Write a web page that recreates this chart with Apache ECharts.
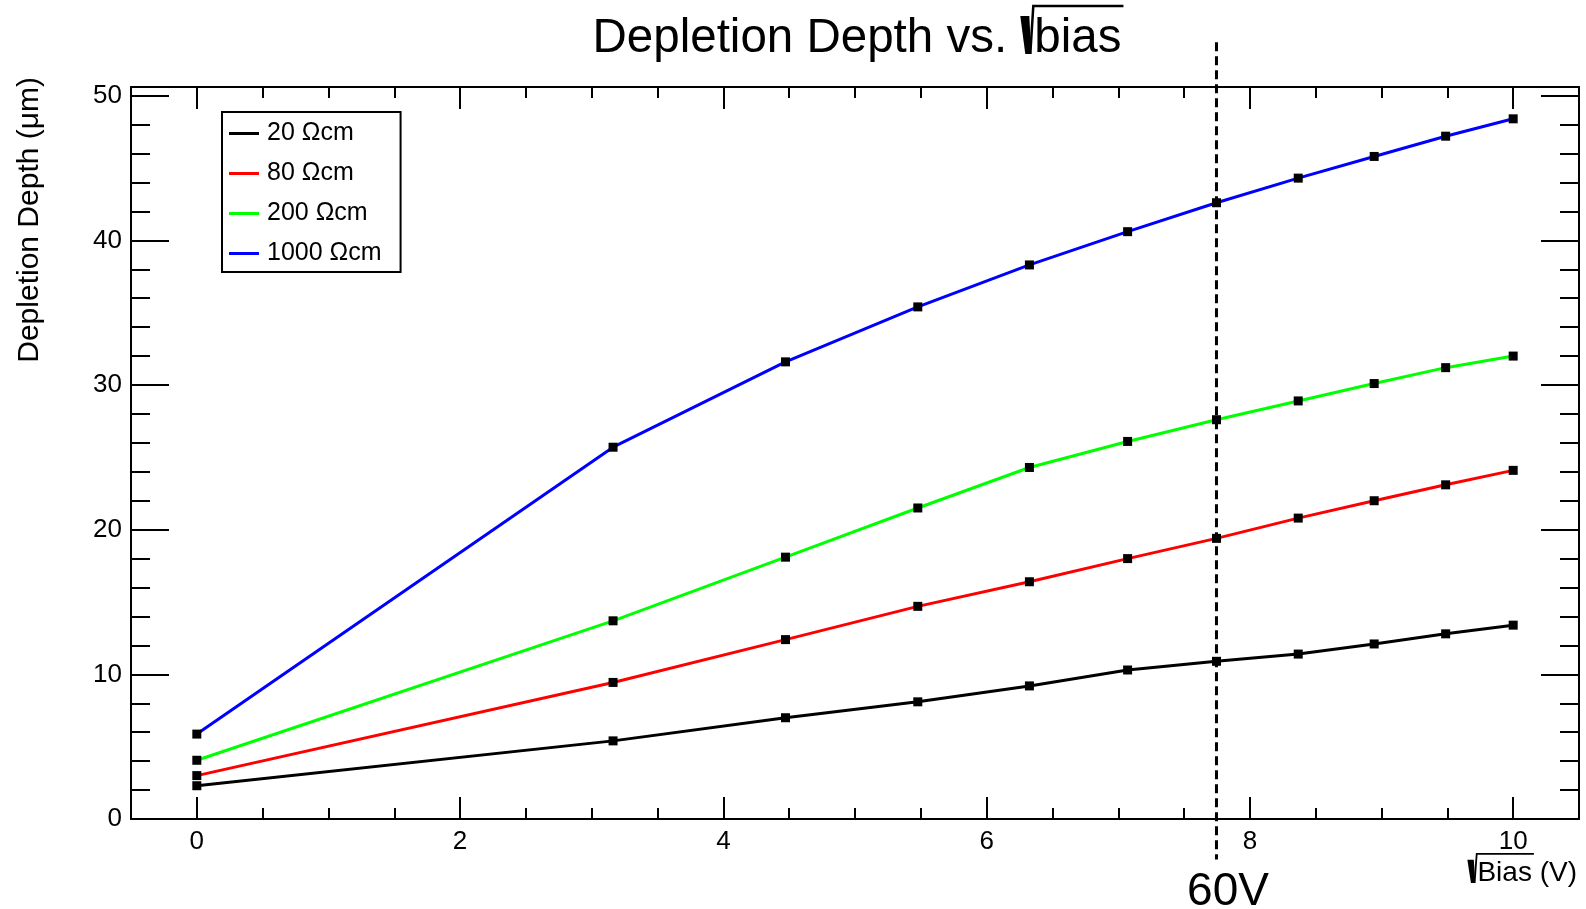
<!DOCTYPE html>
<html><head><meta charset="utf-8">
<script src="https://cdn.jsdelivr.net/npm/echarts@6/dist/echarts.min.js"></script>
<style>html,body{margin:0;padding:0;background:#fff}#c{width:1586px;height:909px}</style>
</head><body><div id="c"></div>
<script>
// ---- data ----
const xValues = [0, 3.162, 4.472, 5.477, 6.325, 7.071, 7.746, 8.367, 8.944, 9.487, 10];
const depth20 = [2.3, 5.4, 7.0, 8.1, 9.2, 10.3, 10.9, 11.4, 12.1, 12.8, 13.4];
const depth80 = [3.0, 9.44, 12.4, 14.7, 16.4, 18.0, 19.4, 20.8, 22.0, 23.1, 24.1];
const depth200 = [4.06, 13.7, 18.1, 21.5, 24.3, 26.1, 27.6, 28.9, 30.1, 31.2, 32.0];
const depth1000 = [5.87, 25.7, 31.6, 35.4, 38.3, 40.6, 42.6, 44.3, 45.8, 47.2, 48.4];
const seriesNames = ['20 Ωcm', '80 Ωcm', '200 Ωcm', '1000 Ωcm'];
const seriesColors = ['#000000', '#ff0000', '#00ff00', '#0000ff'];
const xMajorTicks = [0, 2, 4, 6, 8, 10];
const xMinorTicks = [0.5, 1, 1.5, 2.5, 3, 3.5, 4.5, 5, 5.5, 6.5, 7, 7.5, 8.5, 9, 9.5];
const yMajorTicks = [0, 10, 20, 30, 40, 50];
const yMinorTicks = [2, 4, 6, 8, 12, 14, 16, 18, 22, 24, 26, 28, 32, 34, 36, 38, 42, 44, 46, 48];
const cutX = 7.746;
const cutY = [53.7, -2.8];
const cutLabel = '60V';
const titleText = ['Depletion Depth vs.', 'bias'];
const xTitle = ['Bias', ' (V)'];
const yTitle = 'Depletion Depth (μm)';

// ---- helpers ----
const FONT = '"Liberation Sans", Arial, Helvetica, sans-serif';
const mctx = document.createElement('canvas').getContext('2d');
function tw(t, size) { mctx.font = size + 'px ' + FONT; return mctx.measureText(t).width; }
const VOFF = 0.28;
function txt(t, x, baseline, size) {
  return { type: 'text', x: x, y: baseline - VOFF * size, silent: true,
    style: { text: t, fontSize: size, fontFamily: FONT, fill: '#000',
      textAlign: 'left', textVerticalAlign: 'middle', align: 'left', verticalAlign: 'middle' } };
}
function sqrtText(prefix, radicand, suffix, size, rs, anchorX, b, align) {
  const gap = prefix ? tw(' ', size) : 0;
  const wPre = prefix ? tw(prefix, size) : 0;
  const rad = 14 * rs;
  const wRad = tw(radicand, size);
  const wSuf = suffix ? tw(suffix, size) : 0;
  const total = wPre + gap + rad + wRad + wSuf;
  const x0 = align === 'center' ? anchorX - total / 2 : (align === 'right' ? anchorX - total : anchorX);
  const els = [];
  if (prefix) els.push(txt(prefix, x0, b, size));
  const r0 = x0 + wPre + gap;
  const top = b - size * 0.97;
  els.push({ type: 'polygon', silent: true, shape: { points: [[r0, b - size * 0.76], [r0 + 9 * rs, b - size * 0.76], [r0 + 11 * rs, b + 2], [r0 + 5 * rs, b + 2]] }, style: { fill: '#000' } });
  els.push({ type: 'polyline', silent: true, shape: { points: [[r0 + 10 * rs, b + 2], [r0 + 13 * rs, top], [r0 + rad + wRad + 2, top]] }, style: { stroke: '#000', lineWidth: Math.max(1.5, 2.5 * rs), fill: null } });
  els.push(txt(radicand, r0 + rad, b, size));
  if (suffix) els.push(txt(suffix, r0 + rad + wRad, b, size));
  return els;
}

const allDepths = [depth20, depth80, depth200, depth1000];
const tickStyle = { color: '#000', width: 2 };
const lineStyle = { color: '#000', width: 2 };

function xAxisDef(pos, ticks, len, withLabel, withLine) {
  return { type: 'value', min: -0.5, max: 10.5, position: pos,
    axisLine: { show: withLine, onZero: false, lineStyle: lineStyle },
    axisTick: { show: true, inside: true, length: len, customValues: ticks, lineStyle: tickStyle },
    axisLabel: { show: withLabel, customValues: ticks, fontSize: 26, color: '#000', fontFamily: FONT, margin: 10 },
    splitLine: { show: false }, minorTick: { show: false } };
}
function yAxisDef(pos, ticks, len, withLabel, withLine) {
  return { type: 'value', min: 0, max: 50.6, position: pos,
    axisLine: { show: withLine, onZero: false, lineStyle: lineStyle },
    axisTick: { show: true, inside: true, length: len, customValues: ticks, lineStyle: tickStyle },
    axisLabel: { show: withLabel, customValues: ticks, fontSize: 26, color: '#000', fontFamily: FONT, margin: 9 },
    splitLine: { show: false }, minorTick: { show: false } };
}

const graphics = []
  .concat(sqrtText(titleText[0], titleText[1], '', 47.5, 1, 857, 52, 'center'))
  .concat(sqrtText('', xTitle[0], xTitle[1], 28, 0.72, 1577, 881, 'right'))
  .concat([
    { type: 'text', x: 30, y: 77, rotation: Math.PI / 2, silent: true,
      style: { text: yTitle, fontSize: 30, fontFamily: FONT, fill: '#000', textAlign: 'right', textVerticalAlign: 'middle', align: 'right', verticalAlign: 'middle' } },
    { type: 'text', x: 1228, y: 905 - VOFF * 46, silent: true,
      style: { text: cutLabel, fontSize: 46, fontFamily: FONT, fill: '#000', textAlign: 'center', textVerticalAlign: 'middle', align: 'center', verticalAlign: 'middle' } }
  ]);

const series = allDepths.map((d, i) => ({
  type: 'line', name: seriesNames[i], xAxisIndex: 0, yAxisIndex: 0,
  data: xValues.map((x, j) => [x, d[j]]),
  symbol: 'rect', symbolSize: 9, showSymbol: true,
  lineStyle: { color: seriesColors[i], width: 3 },
  itemStyle: { color: '#000', borderWidth: 0 },
  emphasis: { disabled: true }, z: 3
}));
series.push({
  type: 'line', name: 'cut', xAxisIndex: 0, yAxisIndex: 0, clip: false,
  data: cutY.map(y => [cutX, y]), symbol: 'none',
  lineStyle: { color: '#000', width: 3, type: [9, 5] },
  emphasis: { disabled: true }, z: 4, silent: true
});

const chart = echarts.init(document.getElementById('c'), null, { renderer: 'canvas' });
chart.setOption({
  animation: false,
  backgroundColor: '#ffffff',
  textStyle: { fontFamily: FONT },
  grid: { left: 131, right: 7, top: 87, bottom: 90, containLabel: false, outerBoundsMode: 'none' },
  legend: {
    orient: 'vertical', left: 222, top: 112, selectedMode: false,
    data: seriesNames.map((n, i) => ({ name: n, icon: 'rect', itemStyle: { color: seriesColors[i], borderWidth: 0 } })),
    itemWidth: 30, itemHeight: 3, itemGap: 15,
    padding: [9, 19, 6, 7],
    backgroundColor: '#ffffff', borderColor: '#000', borderWidth: 2, borderRadius: 0,
    textStyle: { fontSize: 25, color: '#000', fontFamily: FONT, lineHeight: 24, padding: [0, 0, 0, 3] }
  },
  xAxis: [
    xAxisDef('bottom', xMajorTicks, 22, true, true),
    xAxisDef('bottom', xMinorTicks, 11, false, false),
    xAxisDef('top', xMajorTicks, 22, false, true),
    xAxisDef('top', xMinorTicks, 11, false, false)
  ],
  yAxis: [
    yAxisDef('left', yMajorTicks, 38, true, true),
    yAxisDef('left', yMinorTicks, 19, false, false),
    yAxisDef('right', yMajorTicks, 38, false, true),
    yAxisDef('right', yMinorTicks, 19, false, false)
  ],
  graphic: graphics,
  series: series
});
</script>
</body></html>
